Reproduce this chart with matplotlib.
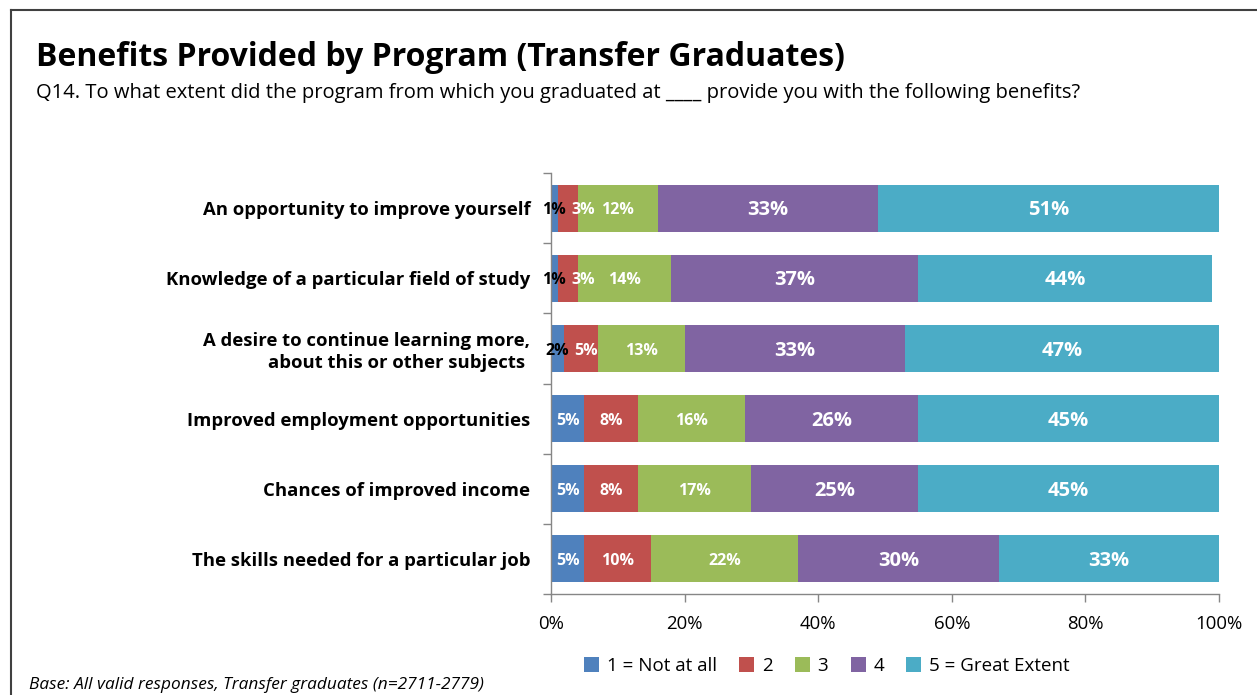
import matplotlib
matplotlib.use("Agg")
import matplotlib.pyplot as plt
from matplotlib.lines import Line2D
import numpy as np

plt.rcParams['font.family'] = ['Open Sans', 'DejaVu Sans']

categories = [
    "An opportunity to improve yourself",
    "Knowledge of a particular field of study",
    "A desire to continue learning more,\nabout this or other subjects ",
    "Improved employment opportunities",
    "Chances of improved income",
    "The skills needed for a particular job",
]
series_names = ["1 = Not at all", "2", "3", "4", "5 = Great Extent"]
s1 = [1, 1, 2, 5, 5, 5]
s2 = [3, 3, 5, 8, 8, 10]
s3 = [12, 14, 13, 16, 17, 22]
s4 = [33, 37, 33, 26, 25, 30]
s5 = [51, 44, 47, 45, 45, 33]
series = [s1, s2, s3, s4, s5]
colors = ["#4F81BD", "#C0504D", "#9BBB59", "#8064A2", "#4BACC6"]
xticks = [0, 20, 40, 60, 80, 100]
xtick_labels = ["0%", "20%", "40%", "60%", "80%", "100%"]

W, H = 1257, 695
fig = plt.figure(figsize=(W / 100, H / 100), dpi=100)
ax = fig.add_axes([551 / W, 1 - 594 / H, (1219 - 551) / W, (594 - 173) / H])

y = np.arange(len(categories))
left = np.zeros(len(categories))
for i, (vals, c) in enumerate(zip(series, colors)):
    vals = np.array(vals, dtype=float)
    ax.barh(y, vals, left=left, height=0.67, color=c, label=series_names[i], zorder=2)
    for j, v in enumerate(vals):
        cx = left[j] + v / 2
        if v <= 2:
            col, fs = "black", 11.5
        else:
            col = "white"
            fs = 14.5 if i >= 3 else 11.5
        # nudge the label next to a tiny segment so the two do not collide
        if i == 1 and series[0][j] == 1:
            cx += 2.4
        elif i == 1 and series[0][j] == 2:
            cx += 0.7
        ax.text(cx, y[j] + 0.03, f"{int(v)}%", ha="center", va="center", color=col,
                fontsize=fs, fontweight="bold", zorder=3)
    left += vals

ax.set_xlim(0, 100)
ax.set_ylim(len(categories) - 0.5, -0.5)
ax.set_xticks(xticks)
ax.set_xticklabels(xtick_labels, fontsize=13.4)
ax.set_yticks(y)
ax.set_yticklabels(categories, fontsize=13.3, fontweight="bold", linespacing=1.25)
ax.tick_params(axis="y", length=0, pad=15)
ax.set_yticks(np.arange(-0.5, len(categories), 1), minor=True)
ax.tick_params(axis="y", which="minor", length=6, color="#868686", width=1)
ax.tick_params(axis="x", length=6, color="#868686", width=1, pad=9)
for lbl in ax.get_yticklabels():
    lbl.set_horizontalalignment("right")
for s in ["top", "right"]:
    ax.spines[s].set_visible(False)
for s in ["left", "bottom"]:
    ax.spines[s].set_color("#868686")
    ax.spines[s].set_linewidth(1)

leg = fig.legend(loc="center", bbox_to_anchor=(827 / W, 1 - 666 / H), ncol=5,
                 frameon=False, fontsize=13.5, handlelength=0.8, handleheight=0.8,
                 handletextpad=0.4, columnspacing=1.2)

fig.text(36 / W, 1 - 57 / H, "Benefits Provided by Program (Transfer Graduates)",
         fontsize=23, fontweight="bold", va="center", ha="left")
fig.text(36 / W, 1 - 93 / H,
         "Q14. To what extent did the program from which you graduated at ____ provide you with the following benefits?",
         fontsize=14.5, va="center", ha="left")
fig.text(29 / W, 1 - 685 / H, "Base: All valid responses, Transfer graduates (n=2711-2779)",
         fontsize=12.4, style="italic", va="center", ha="left")

fig.add_artist(Line2D([11 / W, 1], [1 - 10 / H, 1 - 10 / H], color="#404040", lw=1.5))
fig.add_artist(Line2D([11 / W, 11 / W], [0, 1 - 10 / H], color="#404040", lw=1.5))

fig.savefig("out.png", dpi=100)
